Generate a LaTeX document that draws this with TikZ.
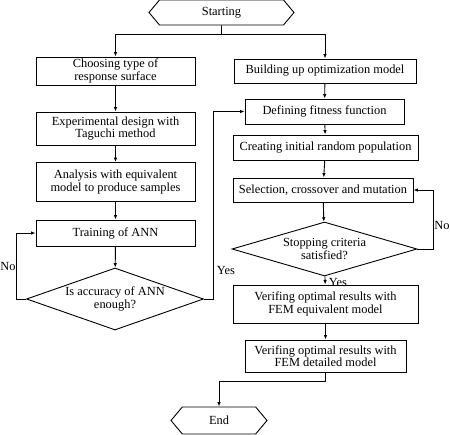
\documentclass[tikz,border=0pt]{standalone}
\usepackage{fontspec}
\setmainfont{Liberation Serif}
\usetikzlibrary{shapes.geometric,shapes.symbols,arrows.meta}

\begin{document}
\begin{tikzpicture}[x=1pt,y=-1pt,line width=0.9pt,>={Latex[length=4.5pt,width=3.5pt]},
    font=\fontsize{12.4}{12.6}\selectfont]
    \tikzstyle{box}=[draw,rectangle,align=center,inner sep=1pt]
    \tikzstyle{term}=[draw,signal,signal to=east and west,signal pointer angle=100,inner sep=1pt]
    \tikzstyle{decision}=[draw,diamond,align=center,inner sep=0pt]
    \tikzstyle{lbl}=[inner sep=0pt]

    \useasboundingbox (0,0) rectangle (450,435);

    % Start and end
    \node[term,minimum width=145pt,minimum height=25pt] (start) at (221.5,12.5) {Starting};
    \node[term,minimum width=96pt,minimum height=27pt] (end) at (219,420.5) {End};

    % Left column: building the ANN
    \node[box,minimum width=159pt,minimum height=28pt] (L1) at (115.5,71) {Choosing type of\\response surface};
    \node[box,minimum width=159pt,minimum height=33pt] (L2) at (115.5,128.5) {Experimental design with\\Taguchi method};
    \node[box,minimum width=159pt,minimum height=39pt] (L3) at (115.5,182) {Analysis with equivalent\\model to produce samples};
    \node[box,minimum width=159pt,minimum height=26pt] (L4) at (115.5,233) {Training of ANN};
    \node[decision,shape aspect=2.85,minimum width=177pt,minimum height=62pt] (D1) at (115,299) {Is accuracy of ANN\\enough?};

    % Right column: optimization
    \node[box,minimum width=182pt,minimum height=24pt] (R1) at (325,71) {Building up optimization model};
    \node[box,minimum width=159pt,minimum height=25pt] (R2) at (324.5,111.5) {Defining fitness function};
    \node[box,minimum width=185pt,minimum height=25pt] (R3) at (325.5,147.5) {Creating initial random population};
    \node[box,minimum width=180pt,minimum height=24pt] (R4) at (323,190) {Selection, crossover and mutation};
    \node[decision,shape aspect=3.4,minimum width=185pt,minimum height=54pt] (D2) at (324.5,249) {Stopping criteria\\satisfied?};
    \node[box,minimum width=185pt,minimum height=38pt] (R5) at (325.5,304) {Verifing optimal results with\\FEM equivalent model};
    \node[box,minimum width=161pt,minimum height=32pt] (R6) at (325.5,356) {Verifing optimal results with\\FEM detailed model};

    % Branch from start
    \coordinate (split) at (221.5,34);
    \draw (start) -- (split);
    \draw[->] (split) -| (L1);
    \draw[->] (split) -| (R1);

    % Straight links
    \foreach \source/\dest in {L1/L2,L2/L3,L3/L4,L4/D1,R1/R2,R2/R3,R3/R4,R4/D2,D2/R5,R5/R6}
        \draw[->] (\source) -- (\dest);

    % Loops and jumps
    \coordinate (noL) at (16,0);
    \coordinate (yesL) at (213,0);
    \coordinate (noR) at (433,0);
    \coordinate (down) at (325.5,381);
    \draw[->] (D1.west) -| (noL |- D1.west) |- (L4.west);
    \draw[->] (D1.east) -| (yesL |- R2.west) -- (R2.west);
    \draw[->] (D2.east) -| (noR |- D2.east) |- (R4.east);
    \draw (R6) -- (down);
    \draw[->] (down) -| (end);

    % Labels
    \node[lbl] (no1) at (8,267) {No};
    \node[lbl] (yes1) at (226,271) {Yes};
    \node[lbl] (no2) at (442,226) {No};
    \node[lbl] (yes2) at (338,283) {Yes};
\end{tikzpicture}
\end{document}
